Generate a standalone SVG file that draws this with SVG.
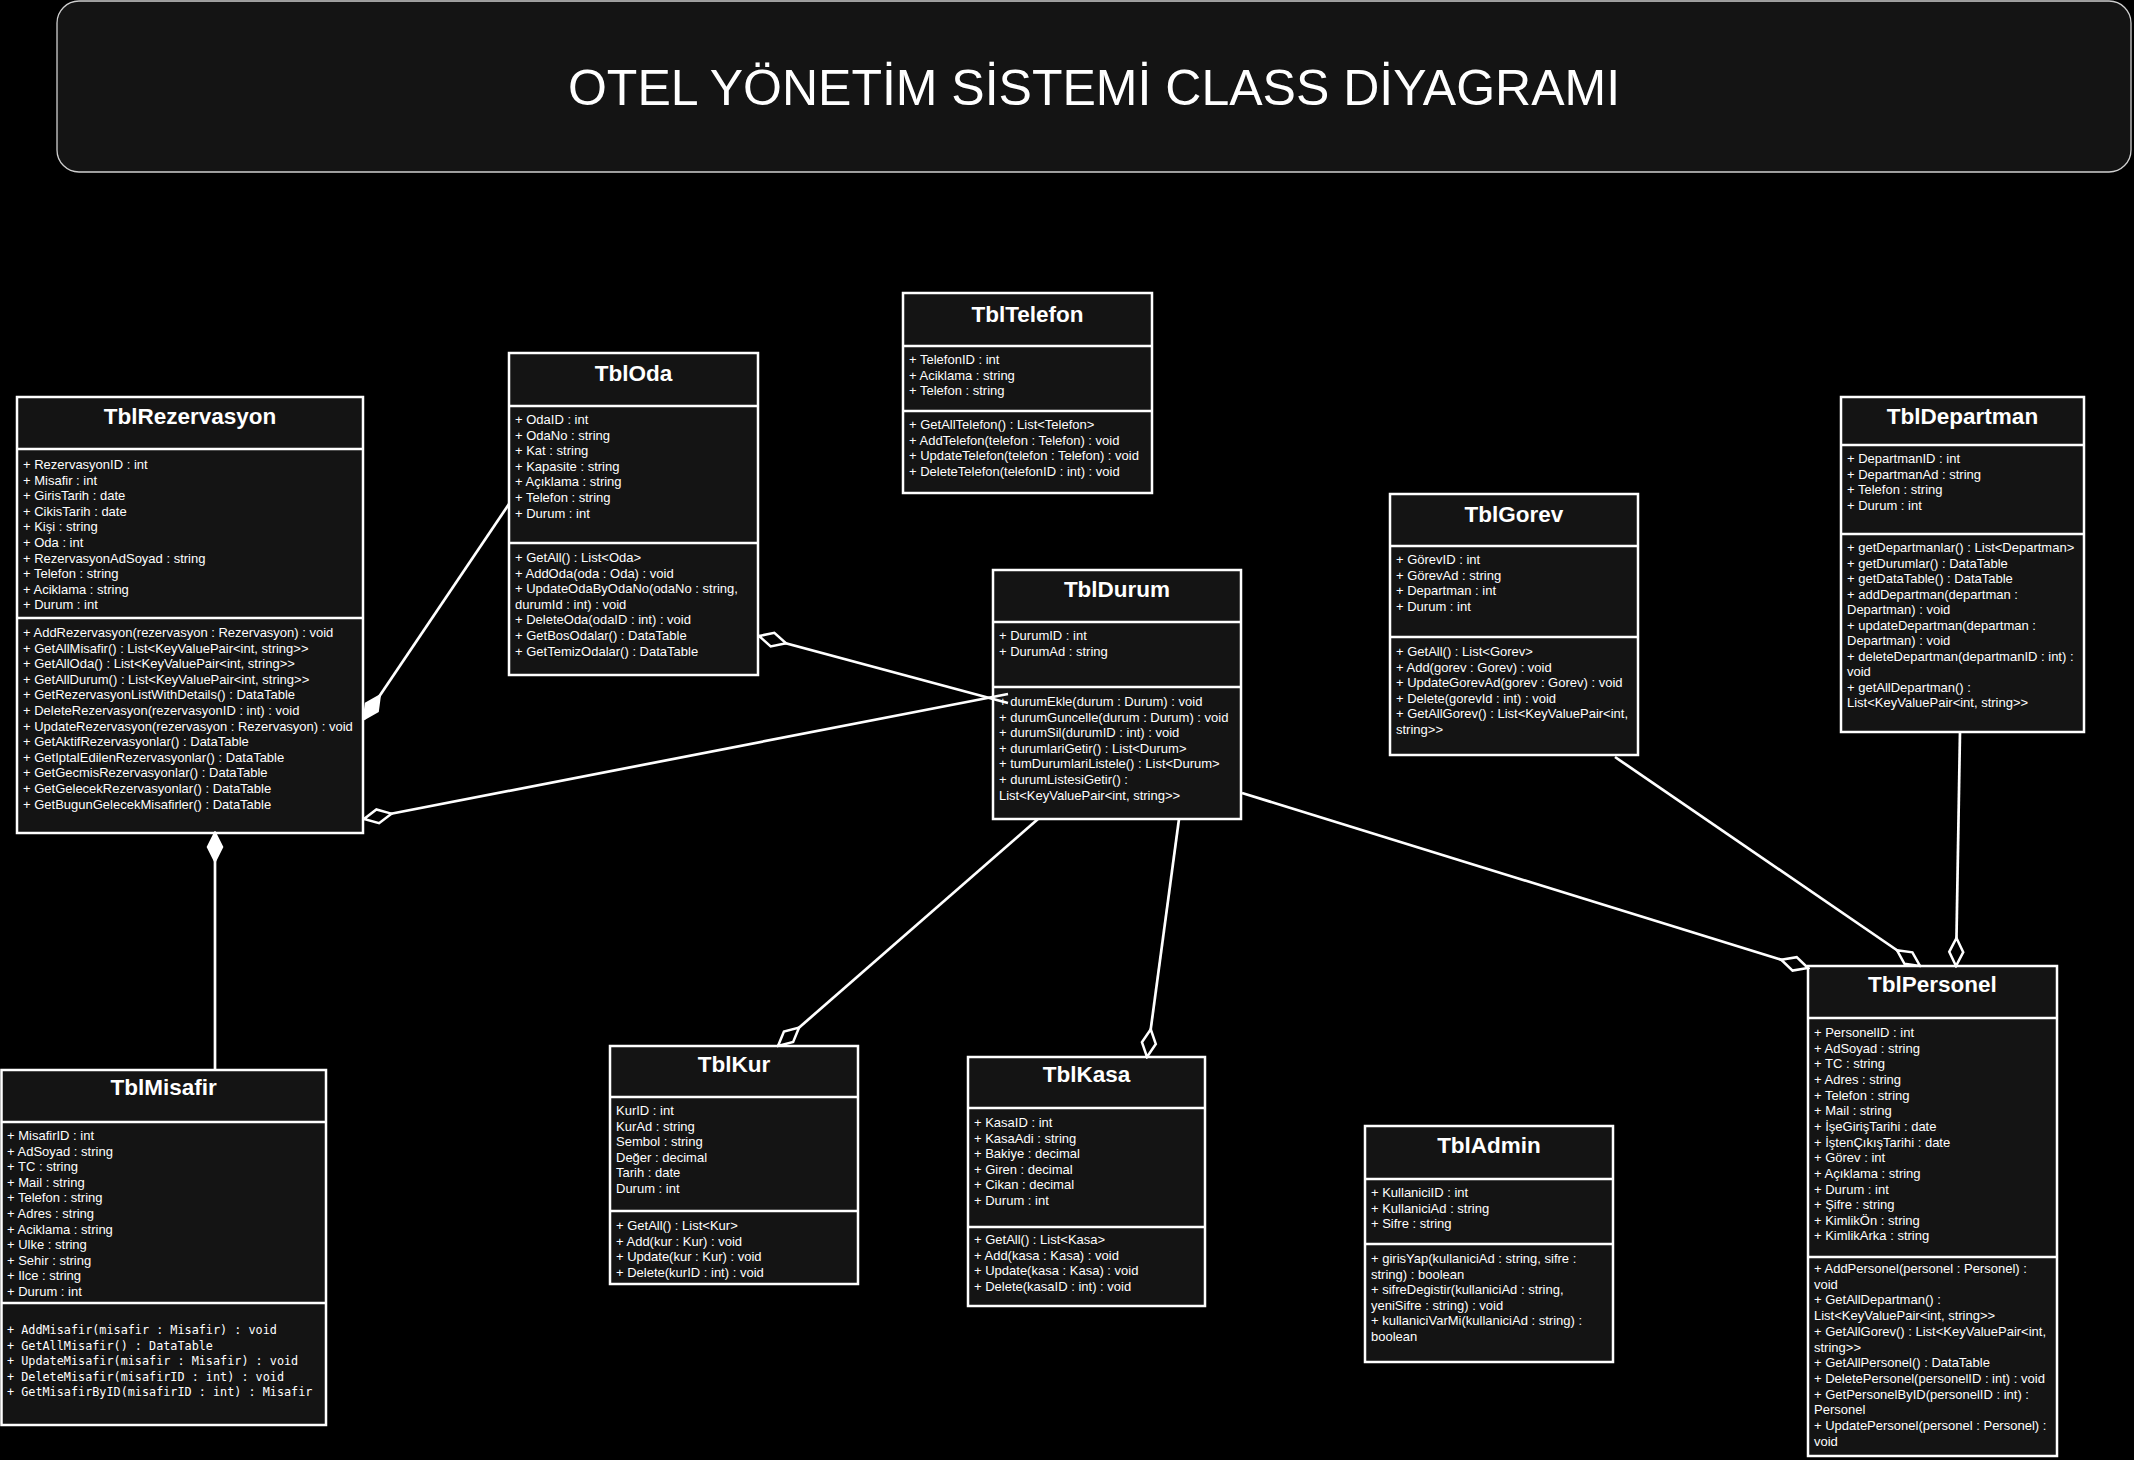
<svg xmlns="http://www.w3.org/2000/svg" width="2134" height="1460" viewBox="0 0 2134 1460">
<style>
.box{fill:#141414;stroke:#ffffff;stroke-width:2.5}
.sep{stroke:#ffffff;stroke-width:2.5}
.ttl{font-family:"Liberation Sans",Arial,sans-serif;font-size:22.5px;font-weight:bold;fill:#ffffff;text-anchor:middle}
.t{font-family:"Liberation Sans",Arial,sans-serif;font-size:13px;fill:#ffffff}
.m{font-family:"DejaVu Sans Mono","Liberation Mono",monospace;font-size:11.8px;fill:#ffffff}
.conn{fill:none;stroke:#ffffff;stroke-width:2.7}
.hd{marker-end:url(#hollow)}
.fd{marker-end:url(#filled)}
</style>
<defs>
<marker id="hollow" markerUnits="userSpaceOnUse" viewBox="-2 -2 32 18" markerWidth="32" markerHeight="18" refX="28" refY="7" orient="auto">
<path d="M0,7 L14,0 L28,7 L14,14 Z" fill="#000000" stroke="#ffffff" stroke-width="2.5"/>
</marker>
<marker id="filled" markerUnits="userSpaceOnUse" viewBox="-2 -2 32 18" markerWidth="32" markerHeight="18" refX="28" refY="7" orient="auto">
<path d="M0,7 L14,0 L28,7 L14,14 Z" fill="#ffffff" stroke="#ffffff" stroke-width="2.5"/>
</marker>
</defs>
<rect width="2134" height="1460" fill="#000000"/>

<g id="title">
<rect x="57" y="1" width="2074" height="171" rx="22" ry="22" fill="#141414" stroke="#cfcfcf" stroke-width="1.3"/>
<text x="1094" y="105" font-family="Liberation Sans, Arial, sans-serif" font-size="50" fill="#ffffff" text-anchor="middle">OTEL YÖNETİM SİSTEMİ CLASS DİYAGRAMI</text>
</g>

<g id="TblRezervasyon">
<rect class="box" x="17" y="397" width="346" height="436"/>
<line class="sep" x1="17" y1="449" x2="363" y2="449"/>
<line class="sep" x1="17" y1="618" x2="363" y2="618"/>
<text class="ttl" x="190" y="424">TblRezervasyon</text>
<text class="t" y="469"><tspan x="23">+ RezervasyonID : int</tspan><tspan x="23" dy="15.6">+ Misafir : int</tspan><tspan x="23" dy="15.6">+ GirisTarih : date</tspan><tspan x="23" dy="15.6">+ CikisTarih : date</tspan><tspan x="23" dy="15.6">+ Kişi : string</tspan><tspan x="23" dy="15.6">+ Oda : int</tspan><tspan x="23" dy="15.6">+ RezervasyonAdSoyad : string</tspan><tspan x="23" dy="15.6">+ Telefon : string</tspan><tspan x="23" dy="15.6">+ Aciklama : string</tspan><tspan x="23" dy="15.6">+ Durum : int</tspan></text>
<text class="t" y="637"><tspan x="23">+ AddRezervasyon(rezervasyon : Rezervasyon) : void</tspan><tspan x="23" dy="15.6">+ GetAllMisafir() : List&lt;KeyValuePair&lt;int, string&gt;&gt;</tspan><tspan x="23" dy="15.6">+ GetAllOda() : List&lt;KeyValuePair&lt;int, string&gt;&gt;</tspan><tspan x="23" dy="15.6">+ GetAllDurum() : List&lt;KeyValuePair&lt;int, string&gt;&gt;</tspan><tspan x="23" dy="15.6">+ GetRezervasyonListWithDetails() : DataTable</tspan><tspan x="23" dy="15.6">+ DeleteRezervasyon(rezervasyonID : int) : void</tspan><tspan x="23" dy="15.6">+ UpdateRezervasyon(rezervasyon : Rezervasyon) : void</tspan><tspan x="23" dy="15.6">+ GetAktifRezervasyonlar() : DataTable</tspan><tspan x="23" dy="15.6">+ GetIptalEdilenRezervasyonlar() : DataTable</tspan><tspan x="23" dy="15.6">+ GetGecmisRezervasyonlar() : DataTable</tspan><tspan x="23" dy="15.6">+ GetGelecekRezervasyonlar() : DataTable</tspan><tspan x="23" dy="15.6">+ GetBugunGelecekMisafirler() : DataTable</tspan></text>
</g>

<g id="TblOda">
<rect class="box" x="509" y="353" width="249" height="322"/>
<line class="sep" x1="509" y1="406" x2="758" y2="406"/>
<line class="sep" x1="509" y1="543" x2="758" y2="543"/>
<text class="ttl" x="633.5" y="381">TblOda</text>
<text class="t" y="424"><tspan x="515">+ OdaID : int</tspan><tspan x="515" dy="15.6">+ OdaNo : string</tspan><tspan x="515" dy="15.6">+ Kat : string</tspan><tspan x="515" dy="15.6">+ Kapasite : string</tspan><tspan x="515" dy="15.6">+ Açıklama : string</tspan><tspan x="515" dy="15.6">+ Telefon : string</tspan><tspan x="515" dy="15.6">+ Durum : int</tspan></text>
<text class="t" y="562"><tspan x="515">+ GetAll() : List&lt;Oda&gt;</tspan><tspan x="515" dy="15.6">+ AddOda(oda : Oda) : void</tspan><tspan x="515" dy="15.6">+ UpdateOdaByOdaNo(odaNo : string,</tspan><tspan x="515" dy="15.6">durumId : int) : void</tspan><tspan x="515" dy="15.6">+ DeleteOda(odaID : int) : void</tspan><tspan x="515" dy="15.6">+ GetBosOdalar() : DataTable</tspan><tspan x="515" dy="15.6">+ GetTemizOdalar() : DataTable</tspan></text>
</g>

<g id="TblTelefon">
<rect class="box" x="903" y="293" width="249" height="200"/>
<line class="sep" x1="903" y1="346" x2="1152" y2="346"/>
<line class="sep" x1="903" y1="411" x2="1152" y2="411"/>
<text class="ttl" x="1027.5" y="322">TblTelefon</text>
<text class="t" y="364"><tspan x="909">+ TelefonID : int</tspan><tspan x="909" dy="15.6">+ Aciklama : string</tspan><tspan x="909" dy="15.6">+ Telefon : string</tspan></text>
<text class="t" y="429"><tspan x="909">+ GetAllTelefon() : List&lt;Telefon&gt;</tspan><tspan x="909" dy="15.6">+ AddTelefon(telefon : Telefon) : void</tspan><tspan x="909" dy="15.6">+ UpdateTelefon(telefon : Telefon) : void</tspan><tspan x="909" dy="15.6">+ DeleteTelefon(telefonID : int) : void</tspan></text>
</g>

<g id="TblDurum">
<rect class="box" x="993" y="570" width="248" height="249"/>
<line class="sep" x1="993" y1="622" x2="1241" y2="622"/>
<line class="sep" x1="993" y1="687" x2="1241" y2="687"/>
<text class="ttl" x="1117" y="597">TblDurum</text>
<text class="t" y="640"><tspan x="999">+ DurumID : int</tspan><tspan x="999" dy="15.6">+ DurumAd : string</tspan></text>
<text class="t" y="706"><tspan x="999">+ durumEkle(durum : Durum) : void</tspan><tspan x="999" dy="15.6">+ durumGuncelle(durum : Durum) : void</tspan><tspan x="999" dy="15.6">+ durumSil(durumID : int) : void</tspan><tspan x="999" dy="15.6">+ durumlariGetir() : List&lt;Durum&gt;</tspan><tspan x="999" dy="15.6">+ tumDurumlariListele() : List&lt;Durum&gt;</tspan><tspan x="999" dy="15.6">+ durumListesiGetir() :</tspan><tspan x="999" dy="15.6">List&lt;KeyValuePair&lt;int, string&gt;&gt;</tspan></text>
</g>

<g id="TblGorev">
<rect class="box" x="1390" y="494" width="248" height="261"/>
<line class="sep" x1="1390" y1="546" x2="1638" y2="546"/>
<line class="sep" x1="1390" y1="637" x2="1638" y2="637"/>
<text class="ttl" x="1514" y="522">TblGorev</text>
<text class="t" y="564"><tspan x="1396">+ GörevID : int</tspan><tspan x="1396" dy="15.6">+ GörevAd : string</tspan><tspan x="1396" dy="15.6">+ Departman : int</tspan><tspan x="1396" dy="15.6">+ Durum : int</tspan></text>
<text class="t" y="656"><tspan x="1396">+ GetAll() : List&lt;Gorev&gt;</tspan><tspan x="1396" dy="15.6">+ Add(gorev : Gorev) : void</tspan><tspan x="1396" dy="15.6">+ UpdateGorevAd(gorev : Gorev) : void</tspan><tspan x="1396" dy="15.6">+ Delete(gorevId : int) : void</tspan><tspan x="1396" dy="15.6">+ GetAllGorev() : List&lt;KeyValuePair&lt;int,</tspan><tspan x="1396" dy="15.6">string&gt;&gt;</tspan></text>
</g>

<g id="TblDepartman">
<rect class="box" x="1841" y="397" width="243" height="335"/>
<line class="sep" x1="1841" y1="445" x2="2084" y2="445"/>
<line class="sep" x1="1841" y1="534" x2="2084" y2="534"/>
<text class="ttl" x="1962.5" y="424">TblDepartman</text>
<text class="t" y="463"><tspan x="1847">+ DepartmanID : int</tspan><tspan x="1847" dy="15.6">+ DepartmanAd : string</tspan><tspan x="1847" dy="15.6">+ Telefon : string</tspan><tspan x="1847" dy="15.6">+ Durum : int</tspan></text>
<text class="t" y="552"><tspan x="1847">+ getDepartmanlar() : List&lt;Departman&gt;</tspan><tspan x="1847" dy="15.5">+ getDurumlar() : DataTable</tspan><tspan x="1847" dy="15.5">+ getDataTable() : DataTable</tspan><tspan x="1847" dy="15.5">+ addDepartman(departman :</tspan><tspan x="1847" dy="15.5">Departman) : void</tspan><tspan x="1847" dy="15.5">+ updateDepartman(departman :</tspan><tspan x="1847" dy="15.5">Departman) : void</tspan><tspan x="1847" dy="15.5">+ deleteDepartman(departmanID : int) :</tspan><tspan x="1847" dy="15.5">void</tspan><tspan x="1847" dy="15.5">+ getAllDepartman() :</tspan><tspan x="1847" dy="15.5">List&lt;KeyValuePair&lt;int, string&gt;&gt;</tspan></text>
</g>

<g id="TblMisafir">
<rect class="box" x="1.5" y="1070" width="324.5" height="355"/>
<line class="sep" x1="1.5" y1="1122" x2="326" y2="1122"/>
<line class="sep" x1="1.5" y1="1303" x2="326" y2="1303"/>
<text class="ttl" x="163.75" y="1095">TblMisafir</text>
<text class="t" y="1140"><tspan x="7">+ MisafirID : int</tspan><tspan x="7" dy="15.6">+ AdSoyad : string</tspan><tspan x="7" dy="15.6">+ TC : string</tspan><tspan x="7" dy="15.6">+ Mail : string</tspan><tspan x="7" dy="15.6">+ Telefon : string</tspan><tspan x="7" dy="15.6">+ Adres : string</tspan><tspan x="7" dy="15.6">+ Aciklama : string</tspan><tspan x="7" dy="15.6">+ Ulke : string</tspan><tspan x="7" dy="15.6">+ Sehir : string</tspan><tspan x="7" dy="15.6">+ Ilce : string</tspan><tspan x="7" dy="15.6">+ Durum : int</tspan></text>
<text class="m" y="1334"><tspan x="7">+ AddMisafir(misafir : Misafir) : void</tspan><tspan x="7" dy="15.5">+ GetAllMisafir() : DataTable</tspan><tspan x="7" dy="15.5">+ UpdateMisafir(misafir : Misafir) : void</tspan><tspan x="7" dy="15.5">+ DeleteMisafir(misafirID : int) : void</tspan><tspan x="7" dy="15.5">+ GetMisafirByID(misafirID : int) : Misafir</tspan></text>
</g>

<g id="TblKur">
<rect class="box" x="610" y="1046" width="248" height="238"/>
<line class="sep" x1="610" y1="1097" x2="858" y2="1097"/>
<line class="sep" x1="610" y1="1211" x2="858" y2="1211"/>
<text class="ttl" x="734" y="1072">TblKur</text>
<text class="t" y="1115"><tspan x="616">KurID : int</tspan><tspan x="616" dy="15.6">KurAd : string</tspan><tspan x="616" dy="15.6">Sembol : string</tspan><tspan x="616" dy="15.6">Değer : decimal</tspan><tspan x="616" dy="15.6">Tarih : date</tspan><tspan x="616" dy="15.6">Durum : int</tspan></text>
<text class="t" y="1230"><tspan x="616">+ GetAll() : List&lt;Kur&gt;</tspan><tspan x="616" dy="15.6">+ Add(kur : Kur) : void</tspan><tspan x="616" dy="15.6">+ Update(kur : Kur) : void</tspan><tspan x="616" dy="15.6">+ Delete(kurID : int) : void</tspan></text>
</g>

<g id="TblKasa">
<rect class="box" x="968" y="1057" width="237" height="249"/>
<line class="sep" x1="968" y1="1108" x2="1205" y2="1108"/>
<line class="sep" x1="968" y1="1227" x2="1205" y2="1227"/>
<text class="ttl" x="1086.5" y="1082">TblKasa</text>
<text class="t" y="1127"><tspan x="974">+ KasaID : int</tspan><tspan x="974" dy="15.6">+ KasaAdi : string</tspan><tspan x="974" dy="15.6">+ Bakiye : decimal</tspan><tspan x="974" dy="15.6">+ Giren : decimal</tspan><tspan x="974" dy="15.6">+ Cikan : decimal</tspan><tspan x="974" dy="15.6">+ Durum : int</tspan></text>
<text class="t" y="1244"><tspan x="974">+ GetAll() : List&lt;Kasa&gt;</tspan><tspan x="974" dy="15.6">+ Add(kasa : Kasa) : void</tspan><tspan x="974" dy="15.6">+ Update(kasa : Kasa) : void</tspan><tspan x="974" dy="15.6">+ Delete(kasaID : int) : void</tspan></text>
</g>

<g id="TblAdmin">
<rect class="box" x="1365" y="1126" width="248" height="236"/>
<line class="sep" x1="1365" y1="1179" x2="1613" y2="1179"/>
<line class="sep" x1="1365" y1="1244" x2="1613" y2="1244"/>
<text class="ttl" x="1489" y="1153">TblAdmin</text>
<text class="t" y="1197"><tspan x="1371">+ KullaniciID : int</tspan><tspan x="1371" dy="15.6">+ KullaniciAd : string</tspan><tspan x="1371" dy="15.6">+ Sifre : string</tspan></text>
<text class="t" y="1263"><tspan x="1371">+ girisYap(kullaniciAd : string, sifre :</tspan><tspan x="1371" dy="15.6">string) : boolean</tspan><tspan x="1371" dy="15.6">+ sifreDegistir(kullaniciAd : string,</tspan><tspan x="1371" dy="15.6">yeniSifre : string) : void</tspan><tspan x="1371" dy="15.6">+ kullaniciVarMi(kullaniciAd : string) :</tspan><tspan x="1371" dy="15.6">boolean</tspan></text>
</g>

<g id="TblPersonel">
<rect class="box" x="1808" y="966" width="249" height="490"/>
<line class="sep" x1="1808" y1="1018" x2="2057" y2="1018"/>
<line class="sep" x1="1808" y1="1257" x2="2057" y2="1257"/>
<text class="ttl" x="1932.5" y="992">TblPersonel</text>
<text class="t" y="1037"><tspan x="1814">+ PersonelID : int</tspan><tspan x="1814" dy="15.65">+ AdSoyad : string</tspan><tspan x="1814" dy="15.65">+ TC : string</tspan><tspan x="1814" dy="15.65">+ Adres : string</tspan><tspan x="1814" dy="15.65">+ Telefon : string</tspan><tspan x="1814" dy="15.65">+ Mail : string</tspan><tspan x="1814" dy="15.65">+ İşeGirişTarihi : date</tspan><tspan x="1814" dy="15.65">+ İştenÇıkışTarihi : date</tspan><tspan x="1814" dy="15.65">+ Görev : int</tspan><tspan x="1814" dy="15.65">+ Açıklama : string</tspan><tspan x="1814" dy="15.65">+ Durum : int</tspan><tspan x="1814" dy="15.65">+ Şifre : string</tspan><tspan x="1814" dy="15.65">+ KimlikÖn : string</tspan><tspan x="1814" dy="15.65">+ KimlikArka : string</tspan></text>
<text class="t" y="1273"><tspan x="1814">+ AddPersonel(personel : Personel) :</tspan><tspan x="1814" dy="15.7">void</tspan><tspan x="1814" dy="15.7">+ GetAllDepartman() :</tspan><tspan x="1814" dy="15.7">List&lt;KeyValuePair&lt;int, string&gt;&gt;</tspan><tspan x="1814" dy="15.7">+ GetAllGorev() : List&lt;KeyValuePair&lt;int,</tspan><tspan x="1814" dy="15.7">string&gt;&gt;</tspan><tspan x="1814" dy="15.7">+ GetAllPersonel() : DataTable</tspan><tspan x="1814" dy="15.7">+ DeletePersonel(personelID : int) : void</tspan><tspan x="1814" dy="15.7">+ GetPersonelByID(personelID : int) :</tspan><tspan x="1814" dy="15.7">Personel</tspan><tspan x="1814" dy="15.7">+ UpdatePersonel(personel : Personel) :</tspan><tspan x="1814" dy="15.7">void</tspan></text>
</g>

<g id="connectors">
<path class="conn fd" d="M509,504 L364,719"/>
<path class="conn hd" d="M1008,703 L759,636"/>
<path class="conn hd" d="M1008,694 L364,819"/>
<path class="conn fd" d="M215,1070 L215,833"/>
<path class="conn hd" d="M1038,819 L778,1046"/>
<path class="conn hd" d="M1179,819 L1147,1057"/>
<path class="conn hd" d="M1242,793 L1808,968"/>
<path class="conn hd" d="M1615,757 L1920,966"/>
<path class="conn hd" d="M1960,732 L1956,966"/>
</g>
</svg>
